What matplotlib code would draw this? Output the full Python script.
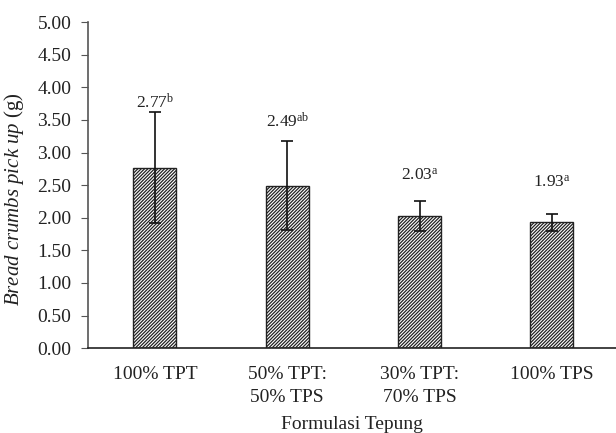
import numpy as np
import matplotlib
matplotlib.use("Agg")
import matplotlib.pyplot as plt

# === data ===
categories = ["100% TPT", "50% TPT:\n50% TPS", "30% TPT:\n70% TPS", "100% TPS"]
means = [2.77, 2.49, 2.03, 1.93]
sds = [0.85, 0.68, 0.23, 0.13]
letters = ["b", "ab", "a", "a"]
label_lift = [0.91, 0.90, 0.55, 0.55]  # how far above the mean each label sits

plt.rcParams["font.family"] = "Liberation Serif"
plt.rcParams["mathtext.fontset"] = "custom"
plt.rcParams["mathtext.rm"] = "Liberation Serif"
plt.rcParams["mathtext.it"] = "Liberation Serif:italic"
plt.rcParams["hatch.linewidth"] = 0.9
plt.rcParams["hatch.color"] = "#333333"

fig = plt.figure(figsize=(6.16, 4.33), dpi=100)
ax = fig.add_axes([0.1429, 0.196, 0.8571, 0.753])

x = np.arange(len(categories))
ax.bar(x, means, width=0.325, color="white", edgecolor="#222222",
       linewidth=1.0, hatch="//////////", zorder=2)
ax.errorbar(x, means, yerr=sds, fmt="none", ecolor="#111111",
            elinewidth=1.2, capsize=4, capthick=1.2, zorder=3)

for xi, m, l, d in zip(x, means, letters, label_lift):
    ax.text(xi, m + d, f"{m:.2f}$^{{\\mathrm{{{l}}}}}$",
            ha="center", va="baseline", fontsize=12.5, color="#222222")

ax.set_xlim(-0.506, 3.484)
ax.set_ylim(0, 5)
ax.set_yticks(np.arange(0, 5.01, 0.5))
ax.set_yticklabels([f"{v:.2f}" for v in np.arange(0, 5.01, 0.5)])
ax.set_xticks(x)
ax.set_xticklabels(categories, linespacing=1.45)
ax.tick_params(axis="x", length=0, pad=13, labelsize=14, colors="#222222")
ax.tick_params(axis="y", direction="out", length=5, labelsize=14,
               colors="#222222", color="#555555", pad=7)

for side in ["top", "right"]:
    ax.spines[side].set_visible(False)
ax.spines["left"].set_color("#555555")
ax.spines["left"].set_linewidth(1.2)
ax.spines["bottom"].set_color("#222222")
ax.spines["bottom"].set_linewidth(1.2)

ax.set_ylabel(r"$\it{Bread\ crumbs\ pick\ up}$ (g)", fontsize=15, color="#222222")
ax.yaxis.set_label_coords(-0.118, 0.456)
ax.set_xlabel("Formulasi Tepung", fontsize=14, color="#222222", labelpad=7)

fig.savefig("out.png", dpi=100)
